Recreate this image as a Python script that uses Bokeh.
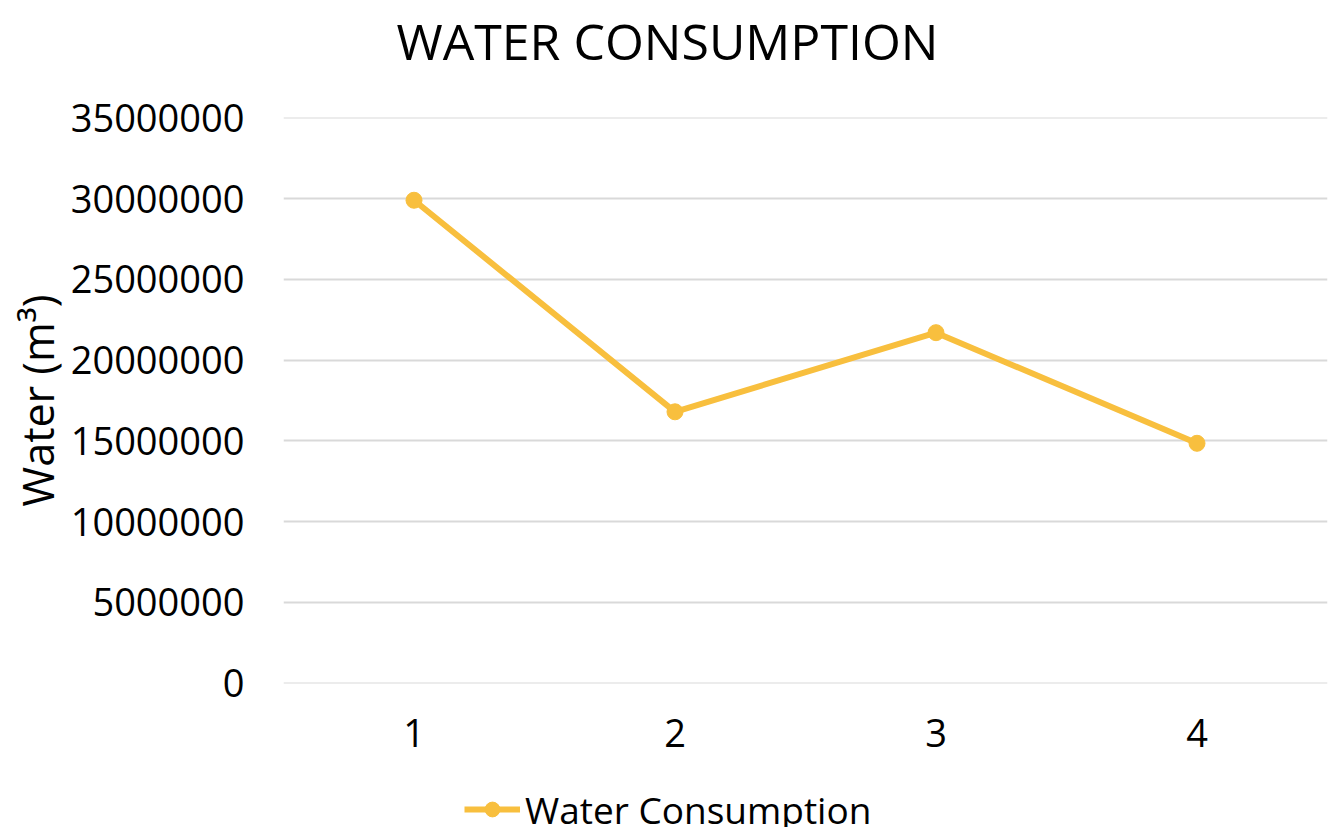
from bokeh.plotting import figure
from bokeh.layouts import column
from bokeh.models import (Range1d, FactorRange, SingleIntervalTicker, BasicTickFormatter, Legend,
                          LegendItem, ColumnDataSource)
from bokeh.embed import file_html
from bokeh.resources import INLINE

categories = ["1", "2", "3", "4"]
water = [29900000, 16800000, 21700000, 14850000]
series_name = "Water Consumption"
title_text = "WATER CONSUMPTION"
y_label = "Water (m\u00b3)"

FONT = "Open Sans"
COLOR = "#F8BF3E"

src = ColumnDataSource(data=dict(x=categories, y=water))

# title strip at the top
tf = figure(width=1337, height=80, output_backend="svg", toolbar_location=None,
            x_axis_type=None, y_axis_type=None, title=title_text,
            min_border_left=0, min_border_right=0, min_border_top=79, min_border_bottom=0)
tf.outline_line_color = None
tf.xgrid.visible = False
tf.ygrid.visible = False
tf.title.text_font = FONT
tf.title.text_font_size = "50px"
tf.title.text_font_style = "normal"
tf.title.text_color = "#000000"
tf.title.align = "left"
tf.title.offset = 113
tf.title.standoff = 12

# main chart
p = figure(width=1337, height=710, output_backend="svg", toolbar_location=None,
           x_range=FactorRange(*categories), y_range=Range1d(-25000, 35025000))
p.min_border_left = 283
p.min_border_right = 10
p.min_border_top = 37
p.min_border_bottom = 107
p.outline_line_color = None

line = p.line("x", "y", source=src, line_color=COLOR, line_width=6)
pts = p.scatter("x", "y", source=src, size=16, fill_color=COLOR, line_color=COLOR)

p.yaxis.ticker = SingleIntervalTicker(interval=5000000)
p.yaxis.formatter = BasicTickFormatter(use_scientific=False)
for ax in (p.xaxis, p.yaxis):
    ax.axis_line_color = None
    ax.major_tick_line_color = None
    ax.minor_tick_line_color = None
    ax.major_tick_out = 0
    ax.major_tick_in = 0
    ax.major_label_text_font = FONT
    ax.major_label_text_font_size = "38px"
    ax.major_label_text_color = "#000000"
p.yaxis.major_label_standoff = 35
p.xaxis.major_label_standoff = 35
p.yaxis.axis_label = y_label
p.yaxis.axis_label_text_font = FONT
p.yaxis.axis_label_text_font_size = "43px"
p.yaxis.axis_label_text_font_style = "normal"
p.yaxis.axis_label_text_color = "#000000"
p.yaxis.axis_label_standoff = 1

p.xgrid.grid_line_color = None
p.ygrid.grid_line_color = "#D9D9D9"
p.ygrid.grid_line_width = 2

# legend strip below the chart (the series renderers here fall outside its frame; they give the legend icon)
lg = figure(width=1337, height=37, output_backend="svg", toolbar_location=None,
            x_axis_type=None, y_axis_type=None,
            x_range=FactorRange(*categories), y_range=Range1d(0, 1),
            min_border_left=0, min_border_right=0, min_border_top=0, min_border_bottom=0)
lg.outline_line_color = None
lg.xgrid.visible = False
lg.ygrid.visible = False
l_line = lg.line("x", "y", source=src, line_color=COLOR, line_width=6)
l_pts = lg.scatter("x", "y", source=src, size=16, fill_color=COLOR, line_color=COLOR)
legend = Legend(items=[LegendItem(label=series_name, renderers=[l_line, l_pts])],
                location="left", orientation="horizontal",
                label_text_font=FONT, label_text_font_size="37px",
                label_text_color="#000000",
                glyph_width=56, glyph_height=37, label_height=37,
                label_standoff=5, padding=0, margin=181,
                border_line_color=None, background_fill_alpha=0)
lg.add_layout(legend, "center")

layout = column(tf, p, lg, spacing=0)
open("out.html", "w").write(file_html(layout, INLINE))
